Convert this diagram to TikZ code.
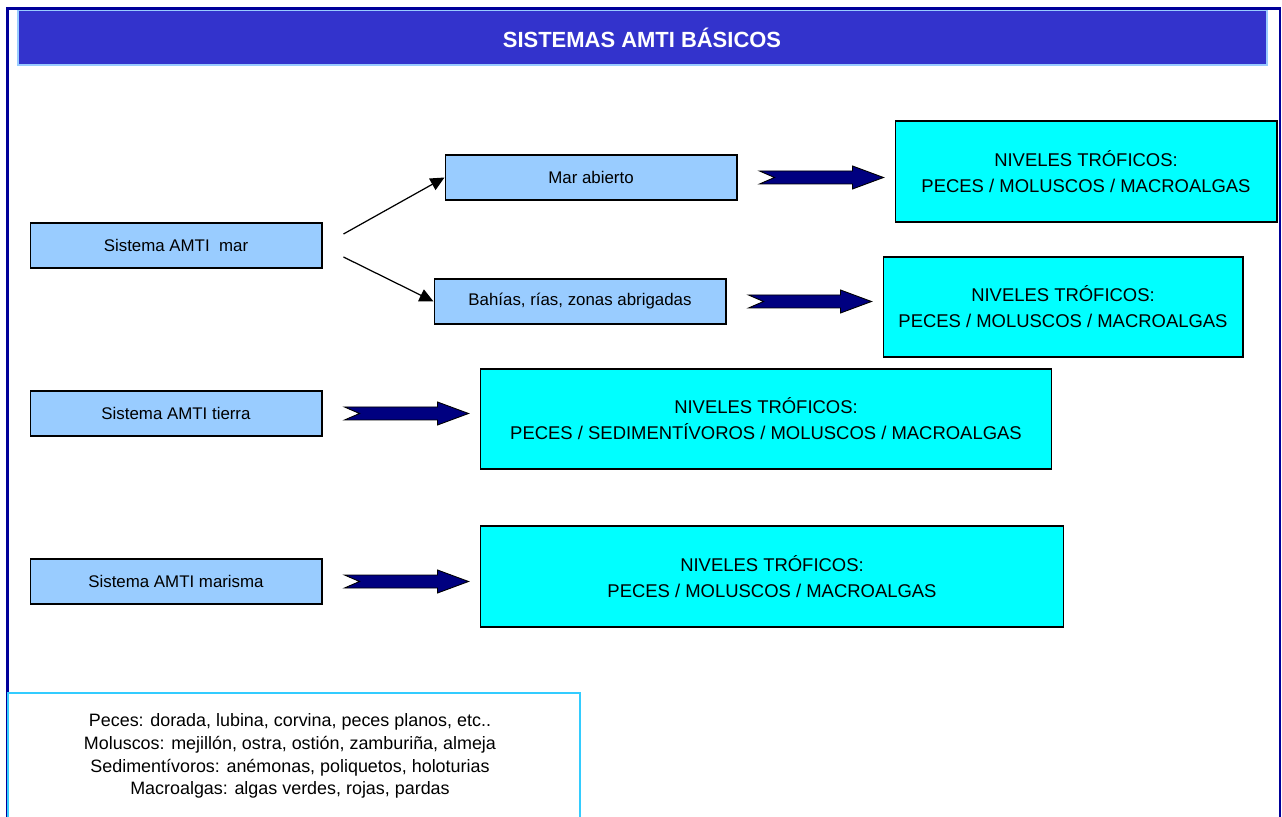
\documentclass[tikz,border=0pt]{standalone}
\usepackage{fontspec}
\setmainfont{Liberation Sans}
\usetikzlibrary{arrows.meta,calc}
\definecolor{titelblau}{HTML}{3333CC}
\definecolor{hellblau}{HTML}{99CCFF}
\definecolor{turkis}{HTML}{00FFFF}
\definecolor{marine}{HTML}{000080}
\definecolor{rahmen}{HTML}{000099}
\definecolor{legende}{HTML}{33CCFF}
\tikzset{
	sistema/.style={draw=black,line width=0.6pt,fill=hellblau,minimum width=5.84cm,minimum height=0.9cm,inner sep=0pt,font=\fontsize{9.6}{11}\selectfont},
	nivel/.style={draw=black,line width=0.6pt,fill=turkis,inner sep=0pt,align=center,font=\fontsize{10.5}{14.7}\selectfont},
	fatarrow/.style={fill=marine,draw=black,line width=0.5pt},
}
% fat arrow from box #1 towards box #2
\newcommand{\fatarrow}[2]{%
	\coordinate (t) at ($(#1.east)+(22,0)$);
	\coordinate (h) at ($(#1.east -| #2.west)+(-11,0)$);
	\filldraw[fatarrow] ($(t)+(0,-6.5)$) -- ($(h)+(-31,-6.5)$) -- ($(h)+(-31,-11.5)$) -- (h)
		-- ($(h)+(-31,11.5)$) -- ($(h)+(-31,6.5)$) -- ($(t)+(0,6.5)$) -- ($(t)+(15,0)$) -- cycle;}
\begin{document}
\begin{tikzpicture}[>={Triangle[length=2.8mm,width=2.6mm]},x=0.02cm,y=-0.02cm]
		\useasboundingbox (0,0) rectangle (1282,817);
		\clip (0,0) rectangle (1282,817);
		\draw[rahmen,line width=1.2pt] (7.5,900) -- (7.5,8.5) -- (1280,8.5) -- (1280,900);
		\filldraw[fill=titelblau,draw=hellblau,line width=0.9pt] (18,10.5) rectangle (1267,65);
		\node[text=white,font=\fontsize{12.5}{15}\bfseries] (titel) at (642,38) {SISTEMAS AMTI BÁSICOS};
		% systems
		\node[sistema] (mar) at (176,245.5) {Sistema AMTI~ mar};
		\node[sistema] (abierto) at (591,177.5) {Mar abierto};
		\node[sistema] (bahias) at (580,301.5) {Bahías, rías, zonas abrigadas};
		\node[sistema] (tierra) at (176,413.5) {Sistema AMTI tierra};
		\node[sistema] (marisma) at (176,581.5) {Sistema AMTI marisma};
		% trophic levels
		\node[nivel,minimum width=7.64cm,minimum height=2.02cm] (niv1) at (1086,171.5) {NIVELES TRÓFICOS:\\PECES / MOLUSCOS / MACROALGAS};
		\node[nivel,minimum width=7.2cm,minimum height=2cm] (niv2) at (1063,307) {NIVELES TRÓFICOS:\\PECES / MOLUSCOS / MACROALGAS};
		\node[nivel,minimum width=11.44cm,minimum height=2cm] (niv3) at (766,419) {NIVELES TRÓFICOS:\\PECES / SEDIMENTÍVOROS / MOLUSCOS / MACROALGAS};
		\node[nivel,minimum width=11.68cm,minimum height=2.02cm] (niv4) at (772,576.5) {NIVELES TRÓFICOS:\\PECES / MOLUSCOS / MACROALGAS};
		% branches
		\coordinate (marA) at ($(mar.east)+(21,-11.5)$);
		\coordinate (marB) at ($(mar.east)+(21,11.5)$);
		\draw[->,line width=0.7pt] (marA) -- (abierto.west);
		\draw[->,line width=0.7pt] (marB) -- (bahias.west);
		\fatarrow{abierto}{niv1}
		\fatarrow{bahias}{niv2}
		\fatarrow{tierra}{niv3}
		\fatarrow{marisma}{niv4}
		% legend
		\draw[legende,line width=0.9pt] (8,900) -- (8,693) -- (580,693) -- (580,900);
		\node[align=center,font=\fontsize{10.2}{13}\selectfont] (leyenda) at (290,756) {Peces: dorada, lubina, corvina, peces planos, etc..\\Moluscos: mejillón, ostra, ostión, zamburiña, almeja\\Sedimentívoros: anémonas, poliquetos, holoturias\\Macroalgas: algas verdes, rojas, pardas};
\end{tikzpicture}
\end{document}
